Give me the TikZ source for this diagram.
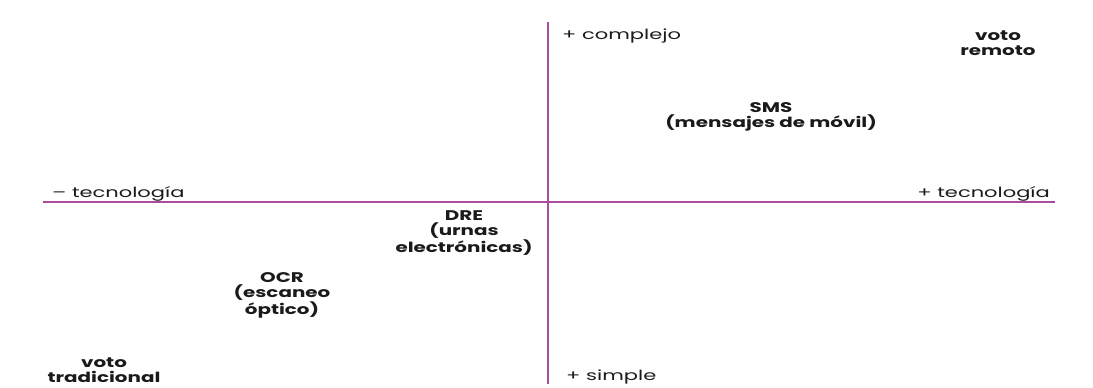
\documentclass[tikz,border=0pt]{standalone}
\usepackage{fontspec}
\setmainfont{Poppins}[FakeStretch=1.5]
\newfontfamily\itemfont{Poppins}[FakeStretch=1.42]
\usepackage{xcolor}
\usepackage{tikz}
\usetikzlibrary{positioning}
\definecolor{axisc}{HTML}{AC4C9C}
\definecolor{inkOne}{HTML}{1A1A1A}
\tikzset{
  axis/.style={draw=axisc, line width=1.3pt},
  axlabel/.style={font=\fontsize{14}{16}\selectfont, text=inkOne, inner sep=0pt},
  item/.style={font=\itemfont\bfseries\fontsize{14}{15.2}\selectfont, text=inkOne, align=center, inner sep=0pt},
}
\begin{document}
\begin{tikzpicture}[x=1pt, y=-1pt]
  \useasboundingbox (0,0) rectangle (1093,388);
  % axes
  \coordinate (left) at (43,202);
  \coordinate (right) at (1055,202);
  \coordinate (top) at (548,22);
  \coordinate (bottom) at (548,384);
  \draw[axis] (left) -- (right);
  \draw[axis] (top) -- (bottom);
  % axis ends
  \node[axlabel, anchor=base west] (lesstech) at (52,197) {– tecnología};
  \node[axlabel, anchor=base east] (moretech) at (1050,197) {+ tecnología};
  \node[axlabel, anchor=west] (complex) at (562,36) {+ complejo};
  \node[axlabel, anchor=west] (simple) at (566,377) {+ simple};
  % voting systems
  \node[item] (remote) at (998,43) {voto\\remoto};
  \node[item] (sms) at (771,117) {SMS\\(mensajes de móvil)};
  \node[item] (dre) at (464,233) {DRE\\(urnas\\electrónicas)};
  \node[item] (ocr) at (282,295) {OCR\\(escaneo\\óptico)};
  \node[item] (paper) at (104,370) {voto\\tradicional};
\end{tikzpicture}
\end{document}
